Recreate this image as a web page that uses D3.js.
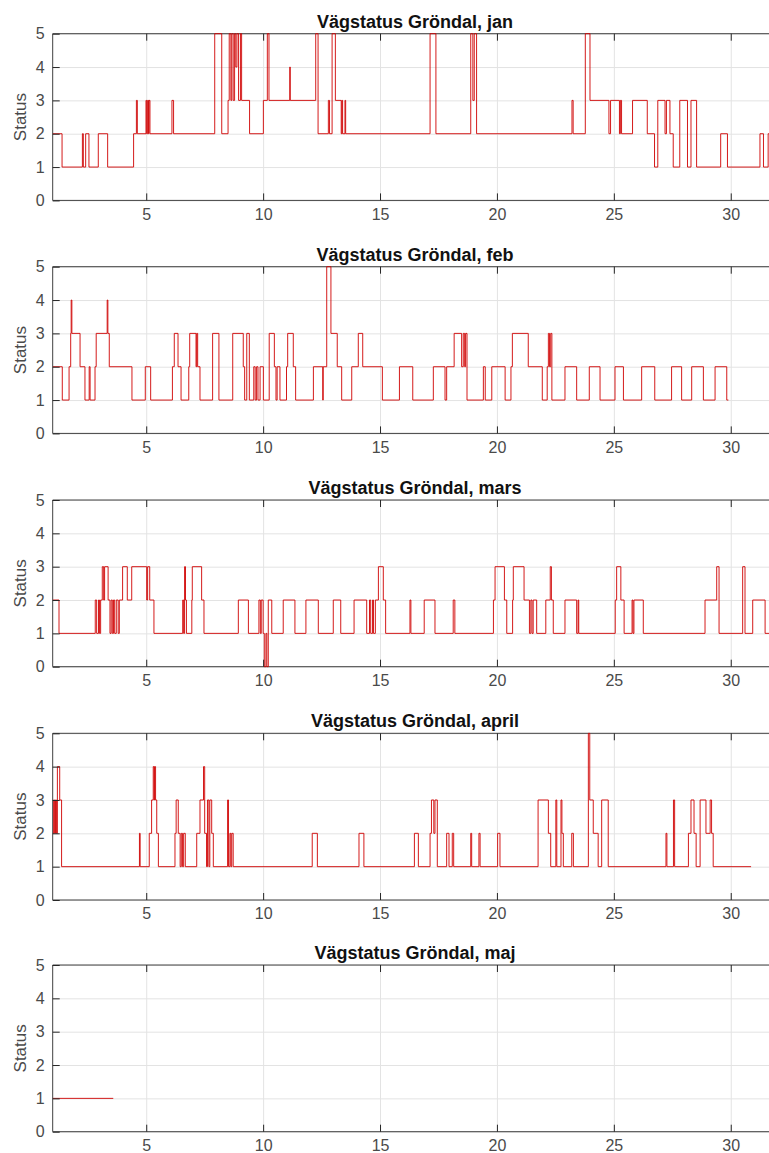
<!DOCTYPE html>
<html lang="sv">
<head>
<meta charset="utf-8">
<title>Vägstatus Gröndal</title>
<script src="https://cdnjs.cloudflare.com/ajax/libs/d3/7.8.5/d3.min.js"></script>
<style>
body { margin: 0; background: #fff; }
svg { display: block; font-family: "Liberation Sans", Arial, sans-serif; }
.grid line { stroke: #e3e3e3; stroke-width: 1; }
.grid path { display: none; }
.axis path { display: none; }
.axis line { stroke: #262626; stroke-width: 1; }
.axis text { font-size: 16px; fill: #4a4a4a; }
.frame { stroke: #404040; stroke-width: 1; fill: none; }
.title { font-size: 18px; font-weight: bold; fill: #111; }
.ylabel { font-size: 17px; fill: #4a4a4a; }
.status { fill: none; stroke: #cf0000; stroke-width: 0.9; }
</style>
</head>
<body>
<div id="chart"></div>
<script>
// month titles
var months = ["jan", "feb", "mars", "april", "maj"];

// change points: day of month and status from that point on
var janDay = [1, 1.4, 2.27, 2.31, 2.41, 2.55, 2.95, 3.35, 4.46, 4.58, 4.62, 4.99, 5.02, 5.06, 5.1, 5.12, 5.16, 6.1, 6.17, 7.93,
  8.23, 8.5, 8.55, 8.62, 8.66, 8.72, 8.78, 8.83, 8.88, 8.95, 9.03, 9.08, 9.42, 10.01, 10.18, 10.25, 11.14, 11.16, 12.25, 12.35,
  12.79, 12.84, 12.95, 13.09, 13.34, 13.37, 13.4, 13.5, 13.53, 17.14, 17.39, 18.88, 18.97, 19.03, 19.13, 23.21, 23.26, 23.78, 23.98, 24.79,
  24.86, 25.24, 25.28, 25.33, 25.8, 26.43, 26.74, 26.88, 27.19, 27.25, 27.4, 27.54, 27.82, 28.15, 28.3, 28.54, 29.57, 29.86, 31.25, 31.4,
  31.6, 32];
var janStatus = [2, 1, 2, 1, 2, 1, 2, 1, 2, 3, 2, 3, 2, 3, 2, 3, 2, 3, 2, 5,
  2, 3, 5, 3, 5, 3, 5, 4, 5, 3, 5, 3, 2, 3, 5, 3, 4, 3, 5, 2,
  3, 2, 5, 3, 2, 3, 2, 3, 2, 5, 2, 5, 3, 5, 2, 3, 2, 5, 3, 2,
  3, 2, 3, 2, 3, 2, 1, 3, 2, 3, 2, 1, 3, 1, 3, 1, 2, 1, 2, 1,
  2, 2];

var febDay = [1, 1.41, 1.7, 1.77, 1.79, 1.82, 2.17, 2.38, 2.56, 2.6, 2.81, 2.86, 3.33, 3.36, 3.42, 4.39, 4.96, 5.19, 6.12, 6.2,
  6.36, 6.49, 6.82, 6.86, 7.13, 7.16, 7.2, 7.3, 7.84, 8.11, 8.7, 9.15, 9.21, 9.3, 9.41, 9.6, 9.66, 9.72, 9.78, 9.87,
  10.01, 10.26, 10.48, 10.55, 10.6, 10.72, 11.0, 11.05, 11.29, 11.39, 12.15, 12.55, 12.57, 12.72, 12.9, 13.17, 13.36, 13.79, 14.07, 14.26,
  15.1, 15.83, 16.4, 17.28, 17.78, 17.85, 18.17, 18.49, 18.56, 18.62, 18.66, 18.72, 19.42, 19.5, 19.78, 20.35, 20.6, 20.66, 21.34, 21.94,
  22.15, 22.2, 22.25, 22.3, 22.35, 22.91, 23.41, 23.95, 24.41, 25.05, 25.41, 26.19, 26.75, 27.47, 27.9, 28.33, 28.83, 29.33, 29.83, 29.9];
var febStatus = [2, 1, 2, 3, 4, 3, 2, 1, 2, 1, 2, 3, 4, 3, 2, 1, 2, 1, 2, 3,
  2, 1, 2, 3, 2, 3, 2, 1, 3, 1, 3, 2, 1, 3, 1, 2, 1, 2, 1, 2,
  1, 3, 2, 1, 2, 1, 2, 3, 2, 1, 2, 1, 2, 5, 3, 2, 1, 2, 3, 2,
  1, 2, 1, 2, 1, 2, 3, 2, 3, 2, 3, 1, 2, 1, 2, 1, 2, 3, 2, 1,
  2, 3, 2, 3, 1, 2, 1, 2, 1, 2, 1, 2, 1, 2, 1, 2, 1, 2, 1, 1];

var marsDay = [1, 1.27, 2.82, 2.88, 2.96, 3.0, 3.05, 3.12, 3.18, 3.22, 3.37, 3.45, 3.5, 3.55, 3.6, 3.65, 3.72, 3.8, 3.85, 3.99,
  4.19, 4.38, 5.02, 5.06, 5.15, 5.33, 6.56, 6.6, 6.64, 6.68, 6.72, 6.95, 6.97, 7.37, 7.47, 8.94, 9.37, 9.82, 9.88, 9.92,
  10.0, 10.05, 10.12, 10.16, 10.22, 10.37, 10.86, 11.36, 11.83, 12.36, 13.0, 13.32, 13.89, 14.43, 14.55, 14.6, 14.68, 14.72, 14.8, 14.93,
  15.14, 15.24, 16.28, 16.32, 16.89, 17.35, 18.13, 18.2, 19.85, 19.92, 20.32, 20.42, 20.67, 20.7, 21.16, 21.39, 21.45, 21.5, 21.55, 21.7,
  22.09, 22.28, 22.33, 22.41, 22.91, 23.41, 23.47, 23.5, 25.06, 25.12, 25.3, 25.44, 25.78, 25.82, 25.86, 26.26, 28.9, 29.4, 29.5, 30.51,
  30.61, 30.94, 31.47, 32];
var marsStatus = [2, 1, 2, 1, 2, 1, 2, 3, 2, 3, 2, 1, 2, 1, 2, 1, 2, 1, 2, 3,
  2, 3, 2, 3, 2, 1, 2, 1, 3, 2, 1, 2, 3, 2, 1, 2, 1, 2, 1, 2,
  1, 0, 1, 0, 2, 1, 2, 1, 2, 1, 2, 1, 2, 1, 2, 1, 2, 1, 2, 3,
  2, 1, 2, 1, 2, 1, 2, 1, 2, 3, 2, 1, 2, 3, 2, 1, 2, 1, 2, 1,
  2, 3, 2, 1, 2, 1, 2, 1, 2, 3, 2, 1, 2, 1, 2, 1, 2, 3, 1, 3,
  1, 2, 1, 1];

var aprilDay = [1, 1.04, 1.08, 1.12, 1.16, 1.2, 1.3, 1.38, 4.71, 4.74, 5.13, 5.23, 5.3, 5.34, 5.36, 5.4, 5.45, 5.52, 6.23, 6.28,
  6.37, 6.45, 6.5, 6.55, 6.6, 6.67, 7.16, 7.3, 7.45, 7.5, 7.58, 7.62, 7.68, 7.72, 7.8, 7.87, 8.48, 8.52, 8.58, 8.62,
  8.66, 8.72, 12.1, 12.32, 14.1, 14.31, 16.47, 16.64, 17.14, 17.2, 17.3, 17.35, 17.45, 17.85, 17.95, 18.09, 18.15, 18.88, 18.92, 19.23,
  19.28, 20.03, 20.13, 21.76, 22.2, 22.3, 22.52, 22.56, 22.74, 22.78, 22.84, 23.2, 23.27, 23.91, 23.97, 24.12, 24.33, 24.48, 24.76, 27.23,
  27.27, 27.55, 27.6, 28.19, 28.3, 28.43, 28.52, 28.69, 28.94, 29.12, 29.18, 29.25, 30.87];
var aprilStatus = [2, 3, 2, 3, 2, 4, 3, 1, 2, 1, 2, 3, 4, 3, 4, 3, 2, 1, 2, 3,
  2, 1, 2, 1, 2, 1, 2, 3, 4, 2, 1, 3, 1, 3, 2, 1, 3, 1, 2, 1,
  2, 1, 2, 1, 2, 1, 2, 1, 2, 3, 2, 3, 1, 2, 1, 2, 1, 2, 1, 2,
  1, 2, 1, 3, 2, 1, 3, 1, 3, 2, 1, 2, 1, 5, 3, 2, 1, 3, 1, 2,
  1, 3, 1, 2, 3, 2, 1, 3, 2, 3, 2, 1, 1];

var majDay = [1, 3.59];
var majStatus = [1, 1];

var dayTicks = [5, 10, 15, 20, 25, 30];
var statusTicks = [0, 1, 2, 3, 4, 5];

var series = [
  d3.zip(janDay, janStatus),
  d3.zip(febDay, febStatus),
  d3.zip(marsDay, marsStatus),
  d3.zip(aprilDay, aprilStatus),
  d3.zip(majDay, majStatus)
];

var W = 769, H = 1153;
var left = 52.7, right = 777.5;
var panelTop = [33.7, 266.7, 500, 733.3, 965];
var ph = 166.7;
var pw = right - left;

var svg = d3.select("#chart").append("svg")
    .attr("width", W)
    .attr("height", H);

var x = d3.scaleLinear().domain([1, 32]).range([0, pw]);

series.forEach(function(data, i) {
  var y = d3.scaleLinear().domain([0, 5]).range([ph, 0]);

  var g = svg.append("g")
      .attr("transform", "translate(" + left + "," + panelTop[i] + ")");

  g.append("clipPath").attr("id", "clip" + i)
    .append("rect").attr("x", 0).attr("y", -2).attr("width", pw).attr("height", ph + 4);

  // grid
  g.append("g").attr("class", "grid")
    .attr("transform", "translate(0," + ph + ")")
    .call(d3.axisBottom(x).tickValues(dayTicks).tickSize(-ph).tickFormat(""));
  g.append("g").attr("class", "grid")
    .call(d3.axisLeft(y).tickValues(statusTicks).tickSize(-pw).tickFormat(""));

  // frame
  g.append("line").attr("class", "frame").attr("x1", 0).attr("x2", pw).attr("y1", 0).attr("y2", 0);
  g.append("line").attr("class", "frame").attr("x1", 0).attr("x2", pw).attr("y1", ph).attr("y2", ph);
  g.append("line").attr("class", "frame").attr("x1", 0).attr("x2", 0).attr("y1", 0).attr("y2", ph);

  // status line
  g.append("path")
    .datum(data)
    .attr("class", "status")
    .attr("clip-path", "url(#clip" + i + ")")
    .attr("d", d3.line()
      .x(function(d) { return x(d[0]); })
      .y(function(d) { return y(d[1]); })
      .curve(d3.curveStepAfter));

  // axes, ticks pointing inward
  g.append("g").attr("class", "axis")
    .attr("transform", "translate(0," + ph + ")")
    .call(d3.axisBottom(x).tickValues(dayTicks).tickSize(-7).tickPadding(8).tickFormat(d3.format("d")));
  g.append("g").attr("class", "axis")
    .call(d3.axisTop(x).tickValues(dayTicks).tickSize(-7).tickFormat(""));
  g.append("g").attr("class", "axis")
    .call(d3.axisLeft(y).tickValues(statusTicks).tickSize(-7).tickPadding(8).tickFormat(d3.format("d")));

  g.append("text")
    .attr("class", "title")
    .attr("x", pw / 2)
    .attr("y", -6)
    .attr("text-anchor", "middle")
    .text("Vägstatus Gröndal, " + months[i]);

  g.append("text")
    .attr("class", "ylabel")
    .attr("transform", "translate(" + (-26.5) + "," + (ph / 2) + ") rotate(-90)")
    .attr("text-anchor", "middle")
    .text("Status");
});
</script>
</body>
</html>
